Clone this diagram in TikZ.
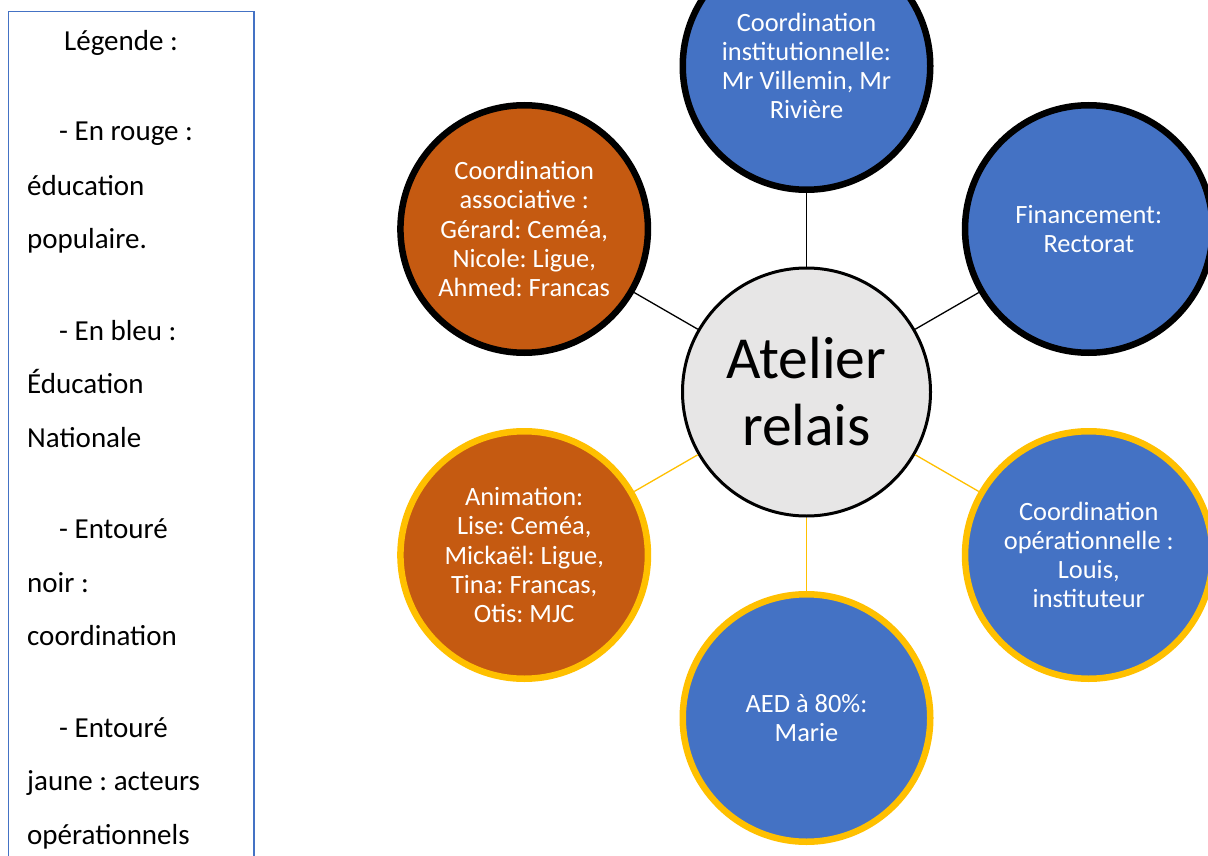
\documentclass[tikz,border=0pt]{standalone}
\usepackage{fontspec}
\setmainfont{Carlito}
\frenchspacing
\definecolor{cblue}{HTML}{4472C4}
\definecolor{corange}{HTML}{C55A11}
\definecolor{cyellow}{HTML}{FFC000}
\definecolor{cgray}{HTML}{E7E6E6}
\begin{document}
\begin{tikzpicture}[x=1pt,y=-1pt,
  bubble/.style={circle, minimum size=247.5pt, inner sep=0pt, align=center, text=white,
    font=\frenchspacing\fontsize{26.4}{29.2}\selectfont},
  coordring/.style={bubble, draw=black, line width=6.5pt},
  operring/.style={bubble, draw=cyellow, line width=6.5pt},
  hub/.style={circle, minimum size=248pt, inner sep=0pt, align=center, fill=cgray,
    draw=black, line width=3pt, font=\fontsize{59.6}{67}\selectfont},
  blackline/.style={draw=black, line width=1.3pt},
  yellowline/.style={draw=cyellow, line width=1.3pt},
  legline/.style={anchor=base west, inner sep=0pt, font=\frenchspacing\fontsize{29}{35}\selectfont}]
\useasboundingbox (0,0) rectangle (1208,856);
\clip (0,0) rectangle (1208,856);
\fill[white] (0,0) rectangle (1208,856);

% legend
\draw[cblue, line width=1.2pt] (8.5,11.5) rectangle (254,880);
\node[legline] (l1) at (64,51) {Légende :};
\node[legline] (l2) at (59,141) {- En rouge :};
\node[legline] (l3) at (27,195) {éducation};
\node[legline] (l4) at (27,248.5) {populaire.};
\node[legline] (l5) at (59,340) {- En bleu :};
\node[legline] (l6) at (27,393.5) {Éducation};
\node[legline] (l7) at (27,447) {Nationale};
\node[legline] (l8) at (59,538.5) {- Entouré};
\node[legline] (l9) at (27,592) {noir :};
\node[legline] (l10) at (27,645.5) {coordination};
\node[legline] (l11) at (59,737) {- Entouré};
\node[legline] (l12) at (27,790.5) {jaune : acteurs};
\node[legline] (l13) at (27,844) {opérationnels};

% hub
\node[hub] (hub) at (806.5,392) {Atelier\\relais};

% surrounding circles
\node[coordring, fill=cblue] (inst) at (806.5,66) {Coordination\\institutionnelle:\\Mr Villemin, Mr\\Rivière};
\node[coordring, fill=cblue] (fin) at (1088.8,229) {Financement:\\Rectorat};
\node[coordring, fill=corange] (asso) at (524.2,229) {Coordination\\associative :\\Gérard: Ceméa,\\Nicole: Ligue,\\Ahmed: Francas};
\node[operring, fill=cblue] (oper) at (1088.8,555) {Coordination\\opérationnelle :\\Louis,\\instituteur};
\node[operring, fill=corange] (anim) at (524.2,555) {Animation:\\Lise: Ceméa,\\Mickaël: Ligue,\\Tina: Francas,\\Otis: MJC};
\node[operring, fill=cblue] (aed) at (806.5,718) {AED à 80\%:\\Marie};

% connectors
\draw[blackline] (hub) -- (inst);
\draw[blackline] (hub) -- (fin);
\draw[blackline] (hub) -- (asso);
\draw[yellowline] (hub) -- (oper);
\draw[yellowline] (hub) -- (anim);
\draw[yellowline] (hub) -- (aed);
\end{tikzpicture}
\end{document}
